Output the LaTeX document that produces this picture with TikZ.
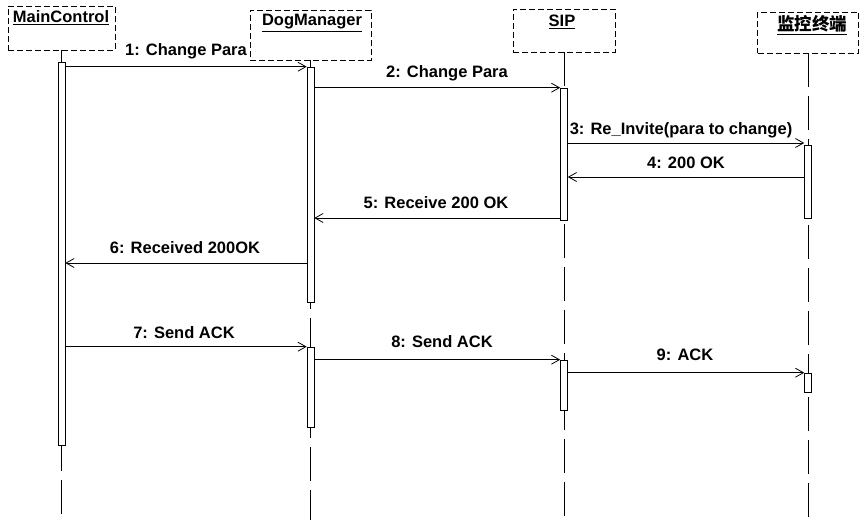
\documentclass[tikz,border=0pt]{standalone}
\usepackage{fontspec}
\setmainfont{Liberation Sans}
\newfontfamily\cjk{Noto Sans CJK SC}
\usetikzlibrary{arrows.meta}
\begin{document}
\begin{tikzpicture}[x=1pt,y=-1pt,
  every node/.style={font=\fontsize{16.5}{19}\selectfont\bfseries},
  headbox/.style={draw, dash pattern=on 6pt off 3pt, line width=0.5pt, inner sep=0pt},
  headtext/.style={inner sep=0pt, anchor=center},
  lifeline/.style={line width=0.7pt, dash pattern=on 34pt off 9pt},
  actbar/.style={draw, fill=white, line width=0.6pt, minimum width=7pt, inner sep=0pt},
  msg/.style={line width=0.6pt, -{Straight Barb[length=8pt,width=9pt,line width=0.8pt]}},
  lbl/.style={inner sep=1pt, anchor=center}]
\useasboundingbox (0,0) rectangle (859,520);
% heads
\node[headbox, minimum width=107pt, minimum height=44pt] (mc) at (61.5,28) {};
\node[headbox, minimum width=121pt, minimum height=50pt] (dm) at (310.5,35) {};
\node[headbox, minimum width=102pt, minimum height=43pt] (sip) at (564,30.5) {};
\node[headbox, minimum width=101pt, minimum height=41pt] (jk) at (808,32.5) {};
\node[headtext] (mct) at (61,18) {\underline{MainControl}};
\node[headtext] (dmt) at (312,23) {\underline{DogManager}};
\node[headtext] (sipt) at (562,22) {\underline{SIP}};
\node[headtext] (jkt) at (812,25) {\fontsize{17.5}{20}\selectfont\cjk\underline{监控终端}};
% lifeline ends
\coordinate (mcE) at (61.5,520);
\coordinate (dmE) at (310.5,520);
\coordinate (sipE) at (564,520);
\coordinate (jkE) at (808,520);
\draw[lifeline] (mc.south) -- (mcE);
\draw[lifeline] (dm.south) -- (dmE);
\draw[lifeline] (sip.south) -- (sipE);
\draw[lifeline] (jk.south) -- (jkE);
% activation bars
\node[actbar, minimum height=383pt] (mcA) at (61.5,253.5) {};
\node[actbar, minimum height=235pt] (dmA) at (310.5,184.5) {};
\node[actbar, minimum height=80pt] (dmB) at (310.5,387) {};
\node[actbar, minimum height=132pt] (sipA) at (564,154) {};
\node[actbar, minimum height=50pt] (sipB) at (564,385) {};
\node[actbar, minimum height=73pt] (jkA) at (808,181.5) {};
\node[actbar, minimum height=19pt] (jkB) at (808,382.5) {};
% messages
\draw[msg] (mcA.east |- dmA.north) -- (dmA.north west);
\draw[msg] (dmA.east |- sipA.north) -- (sipA.north west);
\coordinate (m3) at (0,143);
\draw[msg] (sipA.east |- m3) -- (jkA.west |- m3);
\coordinate (m4) at (0,177);
\draw[msg] (jkA.west |- m4) -- (sipA.east |- m4);
\coordinate (m5) at (0,218);
\draw[msg] (sipA.west |- m5) -- (dmA.east |- m5);
\coordinate (m6) at (0,263);
\draw[msg] (dmA.west |- m6) -- (mcA.east |- m6);
\draw[msg] (mcA.east |- dmB.north) -- (dmB.north west);
\draw[msg] (dmB.east |- sipB.north) -- (sipB.north west);
\draw[msg] (sipB.east |- jkB.north) -- (jkB.north west);
% labels
\node[lbl] (l1) at (186,51) {1: Change Para};
\node[lbl] (l2) at (447,73) {2: Change Para};
\node[lbl] (l3) at (681,130) {3: Re\_Invite(para to change)};
\node[lbl] (l4) at (686,163) {4: 200 OK};
\node[lbl] (l5) at (436,203) {5: Receive 200 OK};
\node[lbl] (l6) at (185,248) {6: Received 200OK};
\node[lbl] (l7) at (184,333) {7: Send ACK};
\node[lbl] (l8) at (442,342) {8: Send ACK};
\node[lbl] (l9) at (685,355) {9: ACK};
\end{tikzpicture}
\end{document}
